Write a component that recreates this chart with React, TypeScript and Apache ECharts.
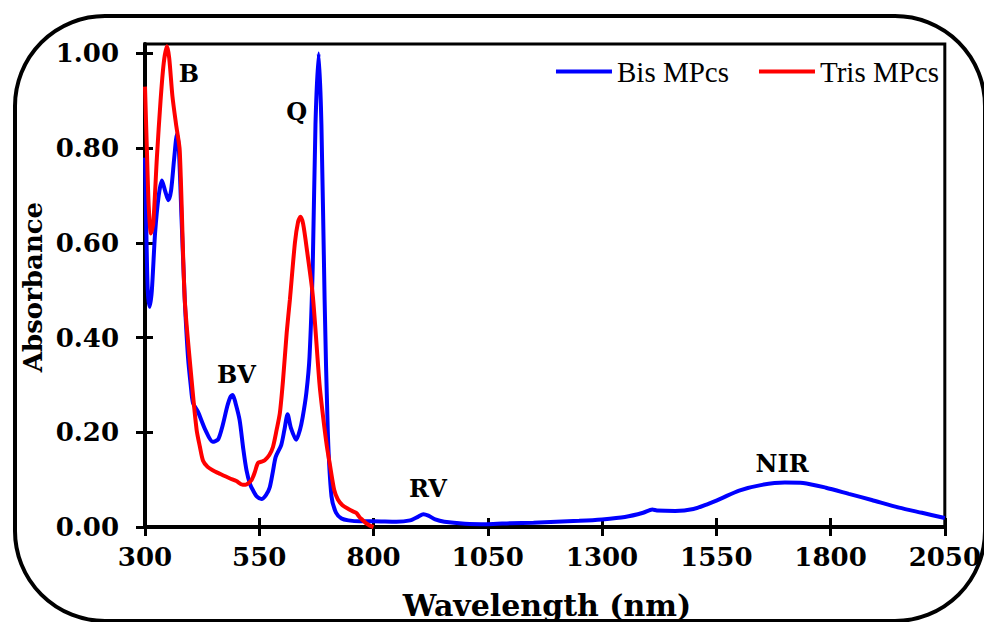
import React, { useEffect, useRef } from "react";
import * as echarts from "echarts";

// Bis MPcs absorption spectrum
const wavelengthBis = [
  300, 303, 306, 310, 315, 322, 330, 337, 344, 351, 357, 364, 370, 374, 380, 387, 394, 400, 405,
  416, 432, 448, 460, 470, 480, 487, 492, 498, 507, 515, 522, 530, 536, 545, 555, 565, 573, 580,
  586, 598, 605, 612, 619, 631, 639, 645, 653, 660, 667, 673, 680, 686, 693, 700, 708, 718, 730,
  745, 770, 800, 850, 880, 898, 909, 920, 935, 955, 1000, 1050, 1100, 1150, 1200, 1250, 1300,
  1350, 1390, 1410, 1420, 1460, 1500, 1530, 1560, 1600, 1650, 1700, 1740, 1790, 1840, 1890, 1950,
  2000, 2050,
];
const absorbanceBis = [
  0.78, 0.62, 0.5, 0.465, 0.5, 0.62, 0.7, 0.732, 0.71, 0.69, 0.71, 0.78, 0.83, 0.8, 0.65, 0.48,
  0.36, 0.3, 0.262, 0.243, 0.205, 0.18, 0.185, 0.215, 0.255, 0.275, 0.279, 0.262, 0.226, 0.165,
  0.12, 0.09, 0.078, 0.064, 0.059, 0.068, 0.084, 0.118, 0.148, 0.173, 0.205, 0.238, 0.21, 0.184,
  0.205, 0.232, 0.283, 0.36, 0.55, 0.85, 1.0, 0.85, 0.48, 0.2, 0.065, 0.03, 0.018, 0.014, 0.012,
  0.012, 0.011, 0.014, 0.022, 0.027, 0.024, 0.016, 0.011, 0.007, 0.006, 0.008, 0.009, 0.011,
  0.013, 0.016, 0.021, 0.03, 0.037, 0.035, 0.034, 0.038, 0.048, 0.06, 0.077, 0.089, 0.094, 0.093,
  0.083, 0.07, 0.057, 0.041, 0.03, 0.019,
];

// Tris MPcs absorption spectrum
const wavelengthTris = [
  300, 304, 308, 313, 318, 326, 334, 341, 348, 353, 360, 368, 376, 387, 402, 413, 420, 427, 437,
  448, 465, 485, 500, 514, 522, 533, 540, 547, 555, 562, 572, 580, 588, 595, 602, 610, 617, 628,
  635, 640, 646, 655, 667, 682, 690, 698, 704, 714, 722, 732, 745, 755, 762, 770, 776, 785, 792,
  800,
];
const absorbanceTris = [
  0.93, 0.8, 0.68, 0.62, 0.64, 0.78, 0.9, 0.98, 1.015, 0.99, 0.91, 0.85, 0.795, 0.48, 0.31, 0.205,
  0.17, 0.14, 0.127, 0.12, 0.112, 0.103, 0.097, 0.089, 0.09, 0.099, 0.115, 0.135, 0.138, 0.141,
  0.152, 0.169, 0.205, 0.24, 0.31, 0.41, 0.48, 0.6, 0.645, 0.655, 0.64, 0.58, 0.49, 0.3, 0.23,
  0.17, 0.135, 0.078, 0.058, 0.046, 0.038, 0.033, 0.03, 0.02, 0.015, 0.007, 0.003, 0.0,
];

// Band labels placed at (wavelength, absorbance)
const bandNames = ["B", "Q", "BV", "RV", "NIR"];
const bandWavelength = [396, 632, 500, 919, 1694];
const bandAbsorbance = [0.958, 0.878, 0.323, 0.082, 0.135];

const xTicks = [300, 550, 800, 1050, 1300, 1550, 1800, 2050];
const yTicks = [0, 0.2, 0.4, 0.6, 0.8, 1.0];

const SERIF_BOLD = "DejaVu Serif";
const SERIF_BOOK = "Liberation Serif";

export default function App() {
  const ref = useRef<HTMLDivElement>(null);

  useEffect(() => {
    if (!ref.current) return;
    const chart = echarts.init(ref.current, undefined, { renderer: "svg" });

    const tickLabel = {
      color: "#000",
      fontFamily: SERIF_BOLD,
      fontWeight: "bold" as const,
      fontSize: 26,
    };

    const xBase = {
      type: "value" as const,
      min: 300,
      max: 2050,
      interval: 250,
      position: "bottom" as const,
      splitLine: { show: false },
      axisLine: { show: true, onZero: false, lineStyle: { color: "#000", width: 4 } },
    };
    const yBase = {
      type: "value" as const,
      min: 0,
      max: 1.02,
      position: "left" as const,
      splitLine: { show: false },
      axisLine: { show: true, onZero: false, lineStyle: { color: "#000", width: 4 } },
    };

    chart.setOption({
      animation: false,
      backgroundColor: "#fff",
      grid: {
        left: 145,
        right: 37,
        top: 44,
        bottom: 95,
        show: true,
        borderColor: "#000",
        borderWidth: 3,
        backgroundColor: "transparent",
      },
      legend: {
        data: ["Bis MPcs", "Tris MPcs"],
        right: 40,
        top: 52,
        icon: "rect",
        itemWidth: 56,
        itemHeight: 4,
        itemGap: 30,
        textStyle: { color: "#000", fontFamily: SERIF_BOOK, fontSize: 29 },
      },
      xAxis: [
        {
          ...xBase,
          axisTick: { show: true, length: 9, lineStyle: { color: "#000", width: 3 }, customValues: xTicks },
          axisLabel: { ...tickLabel, margin: 17, customValues: xTicks, formatter: (v: number) => String(v) },
        },
        {
          ...xBase,
          axisLine: { show: false },
          axisTick: { show: true, inside: true, length: 9, lineStyle: { color: "#000", width: 3 }, customValues: xTicks },
          axisLabel: { show: false },
        },
      ],
      yAxis: [
        {
          ...yBase,
          axisTick: { show: true, length: 9, lineStyle: { color: "#000", width: 3 }, customValues: yTicks },
          axisLabel: { ...tickLabel, margin: 26, customValues: yTicks, formatter: (v: number) => v.toFixed(2) },
        },
        {
          ...yBase,
          axisLine: { show: false },
          axisTick: { show: true, inside: true, length: 8, lineStyle: { color: "#000", width: 3 }, customValues: yTicks },
          axisLabel: { show: false },
        },
      ],
      graphic: [
        {
          type: "rect",
          z: -10,
          silent: true,
          shape: { x: 15, y: 16, width: 970, height: 605, r: 90 },
          style: { fill: "none", stroke: "#000", lineWidth: 4 },
        },
        {
          type: "text",
          x: 33,
          y: 287,
          rotation: Math.PI / 2,
          style: {
            text: "Absorbance",
            fill: "#000",
            font: `bold 26px "${SERIF_BOLD}"`,
            align: "center",
            verticalAlign: "middle",
          },
        },
        {
          type: "text",
          x: 547,
          y: 605,
          style: {
            text: "Wavelength (nm)",
            fill: "#000",
            font: `bold 30px "${SERIF_BOLD}"`,
            align: "center",
            verticalAlign: "middle",
          },
        },
      ],
      series: [
        {
          name: "Bis MPcs",
          type: "line",
          xAxisIndex: 0,
          yAxisIndex: 0,
          data: wavelengthBis.map((w, i) => [w, absorbanceBis[i]]),
          showSymbol: false,
          smooth: 0.25,
          lineStyle: { color: "#0000ff", width: 4 },
          itemStyle: { color: "#0000ff" },
        },
        {
          name: "Tris MPcs",
          type: "line",
          xAxisIndex: 0,
          yAxisIndex: 0,
          data: wavelengthTris.map((w, i) => [w, absorbanceTris[i]]),
          showSymbol: false,
          smooth: 0.25,
          lineStyle: { color: "#ff0000", width: 4 },
          itemStyle: { color: "#ff0000" },
        },
        {
          name: "bands",
          type: "scatter",
          xAxisIndex: 0,
          yAxisIndex: 0,
          silent: true,
          symbolSize: 1,
          itemStyle: { color: "rgba(0,0,0,0)", opacity: 1 },
          data: bandNames.map((n, i) => ({ name: n, value: [bandWavelength[i], bandAbsorbance[i]] })),
          label: {
            show: true,
            position: "inside",
            formatter: "{b}",
            color: "#000",
            opacity: 1,
            textBorderWidth: 0,
            fontFamily: SERIF_BOLD,
            fontWeight: "bold",
            fontSize: 24,
          },
        },
      ],
    });

    return () => chart.dispose();
  }, []);

  return <div ref={ref} style={{ width: 984, height: 622, position: "absolute", left: 0, top: 0 }} />;
}
